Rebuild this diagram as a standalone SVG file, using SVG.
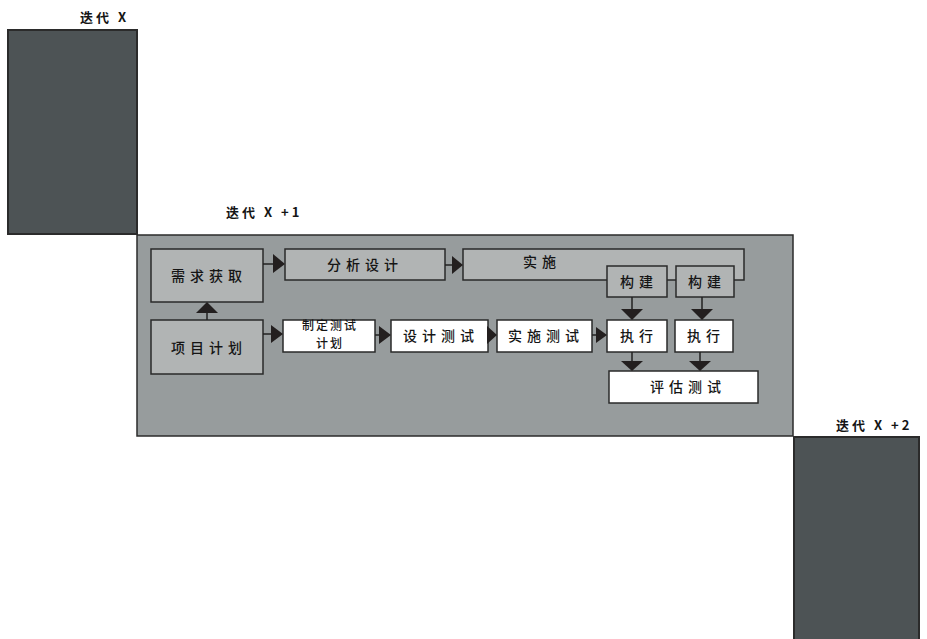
<svg xmlns="http://www.w3.org/2000/svg" width="927" height="639" viewBox="0 0 927 639">
<style>
.t{font-family:"Noto Sans CJK SC","Noto Sans",sans-serif;font-size:14px;font-weight:500;letter-spacing:5px;fill:#151515;text-anchor:middle}
.s{font-size:12px;letter-spacing:2px}
.lbl{font-family:"Noto Sans CJK SC","Liberation Sans",sans-serif;font-size:13px;font-weight:600;letter-spacing:3px;fill:#151515}
.dark{fill:#4d5355;stroke:#2b2b2b;stroke-width:2}
.panel{fill:#979c9d;stroke:#2b2b2b;stroke-width:1.5}
.g{fill:#b1b4b4;stroke:#2a2a2a;stroke-width:1.5}
.w{fill:#ffffff;stroke:#2a2a2a;stroke-width:1.5}
.ln{stroke:#222;stroke-width:1.5;fill:none}
.ah{fill:#231f1f}
</style>
<g id="iter-x">
<rect class="dark" x="8" y="30" width="129" height="204"/>
<text class="lbl" x="80" y="22">迭代 X</text>
</g>
<g id="iter-x1">
<rect class="panel" x="137" y="235" width="656" height="201"/>
<text class="lbl" x="226" y="217">迭代 X +1</text>
</g>
<g id="iter-x2">
<rect class="dark" x="794" y="437" width="125" height="205"/>
<text class="lbl" x="836" y="430">迭代 X +2</text>
</g>
<g id="n-req"><rect class="g" x="151" y="249" width="112" height="53"/><text class="t" x="209" y="281">需求获取</text></g>
<g id="n-plan"><rect class="g" x="151" y="320" width="112" height="54"/><text class="t" x="209" y="353">项目计划</text></g>
<g id="n-ana"><rect class="g" x="285" y="249" width="160" height="31"/><text class="t" x="365" y="270">分析设计</text></g>
<g id="n-impl"><rect class="g" x="463" y="249" width="281" height="31"/><text class="t" x="542" y="267">实施</text></g>
<g id="n-build1"><rect class="g" x="607" y="266" width="60" height="31"/><text class="t" x="639" y="287">构建</text></g>
<g id="n-build2"><rect class="g" x="676" y="266" width="58" height="31"/><text class="t" x="707" y="287">构建</text></g>
<g id="n-tplan"><rect class="w" x="283" y="320" width="92" height="32"/><text class="t s" x="330" y="330">制定测试</text><text class="t s" x="330" y="348">计划</text></g>
<g id="n-tdes"><rect class="w" x="391" y="320" width="97" height="32"/><text class="t" x="441" y="341">设计测试</text></g>
<g id="n-timpl"><rect class="w" x="497" y="320" width="95" height="32"/><text class="t" x="546" y="341">实施测试</text></g>
<g id="n-exec1"><rect class="w" x="607" y="320" width="60" height="32"/><text class="t" x="639" y="341">执行</text></g>
<g id="n-exec2"><rect class="w" x="675" y="320" width="58" height="32"/><text class="t" x="706" y="341">执行</text></g>
<g id="n-eval"><rect class="w" x="609" y="371" width="149" height="32"/><text class="t" x="688" y="392">评估测试</text></g>
<g id="connectors">
<path class="ln" d="M207,320V312"/><path class="ah" d="M196,313L218,313L207,302Z"/>
<path class="ln" d="M263,264H273"/><path class="ah" d="M273,254L285,264L273,273Z"/>
<path class="ln" d="M445,265H453"/><path class="ah" d="M452,256L463,265L452,274Z"/>
<path class="ln" d="M263,334H272"/><path class="ah" d="M271,325L283,334L271,343Z"/>
<path class="ln" d="M375,335H380"/><path class="ah" d="M379,326L391,335L379,344Z"/>
<path class="ah" d="M487,326L497,335L487,344Z"/>
<path class="ln" d="M592,335H597"/><path class="ah" d="M596,327L607,335L596,343Z"/>
<path class="ln" d="M632,297V309"/><path class="ah" d="M621,309L643,309L632,320Z"/>
<path class="ln" d="M702,297V309"/><path class="ah" d="M691,309L713,309L702,320Z"/>
<path class="ln" d="M632,352V361"/><path class="ah" d="M621,361L643,361L632,371Z"/>
<path class="ln" d="M700,352V361"/><path class="ah" d="M689,361L711,361L700,371Z"/>
</g>
</svg>
